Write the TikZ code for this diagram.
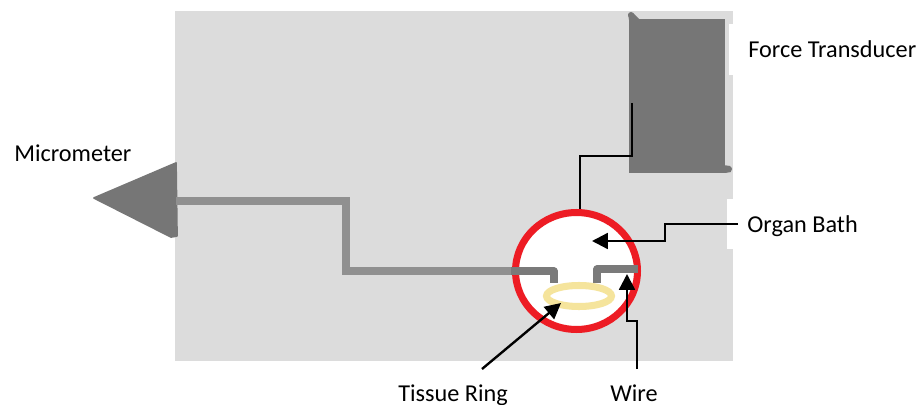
\documentclass[tikz,border=0pt]{standalone}
\usepackage{fontspec}
\setmainfont{Carlito}
\usetikzlibrary{shapes.geometric, arrows.meta}
\definecolor{panelgray}{RGB}{220, 220, 220}
\definecolor{bodygray}{RGB}{118, 118, 118}
\definecolor{rodgray}{RGB}{144, 144, 144}
\definecolor{wiregray}{RGB}{122, 122, 122}
\definecolor{bathred}{RGB}{237, 28, 36}
\definecolor{ringyellow}{RGB}{245, 228, 156}
\tikzset{
  callout/.style={font=\fontsize{13.8}{16}\selectfont, inner sep=0pt},
  leader/.style={line width=1.35pt, black},
  pointer/.style={leader, -{Triangle[length=9pt, width=9pt]}},
}

\begin{document}
\begin{tikzpicture}[x=0.02cm, y=-0.02cm]
  \useasboundingbox (0,0) rectangle (919,405);

  % ===== background panel with white notches =====
  \fill[panelgray] (175,11) rectangle (733,361);
  \fill[white] (729,24) rectangle (733,75);
  \fill[white] (727,199) rectangle (733,249);

  % ===== force transducer =====
  \node[rectangle, fill=bodygray, inner sep=0pt, minimum width=1.92cm, minimum height=3.08cm]
    (transducer) at (677,96) {};
  \fill[bodygray] (631,15) circle (3) (729,169) circle (3);
  \fill[bodygray] (628,14) -- (633,13) -- (640,20) -- (629,20) -- cycle;
  \fill[bodygray] (723,165) -- (730,166) -- (731,172) -- (725,173) -- cycle;

  % ===== micrometer =====
  \fill[bodygray, draw=bodygray, line width=1pt, line join=round]
    (94,198) -- (176,163) -- (177,236) -- (171,237) -- cycle;

  % ===== organ bath =====
  \node[ellipse, draw=bathred, fill=white, line width=4pt, inner sep=0pt,
        minimum width=2.44cm, minimum height=2.34cm]
    (bath) at (576.5,271) {};

  % rod from micrometer to hook
  \draw[rodgray, line width=4pt] (176,201) -- (346,201) -- (346,271) -- (515,271);
  \draw[wiregray, line width=4pt, line join=round] (511,271) -- (554,271) -- (554,283);
  \draw[wiregray, line width=4pt, line join=round] (597,283) -- (597,269) -- (638,269);

  % ===== tissue ring =====
  \node[ellipse, draw=ringyellow, line width=4pt, inner sep=0pt,
        minimum width=1.3cm, minimum height=0.42cm]
    (ring) at (579,296) {};

  % ===== labels =====
  \node[callout, anchor=base west] (forcelabel) at (748,58) {Force Transducer};
  \node[callout, anchor=base west] (bathlabel) at (747,233) {Organ Bath};
  \node[callout, anchor=base west] (microlabel) at (14,162) {Micrometer};
  \node[callout, anchor=base] (tissuelabel) at (453,401) {Tissue Ring};
  \node[callout, anchor=base] (wirelabel) at (634,401) {Wire};

  % ===== leaders =====
  \coordinate (sensor) at (632,103);
  \coordinate (elbow) at (580,156);
  \coordinate (bathstart) at (738,224);
  \coordinate (bathtip) at (592,241);
  \coordinate (wiretip) at (627,274);
  \coordinate (wirefoot) at (637,369);
  \coordinate (tissuefoot) at (482,369);
  \coordinate (tissuetip) at (561,303);

  \draw[leader] (sensor) -- (632,156) -- (elbow) -- (elbow |- bath.north);
  \draw[pointer] (bathstart) -- (665,224) -- (665,241) -- (bathtip);
  \draw[pointer] (wirefoot) -- (637,321) -- (627,321) -- (wiretip);
  \draw[pointer] (tissuefoot) -- (tissuetip);

\end{tikzpicture}
\end{document}
